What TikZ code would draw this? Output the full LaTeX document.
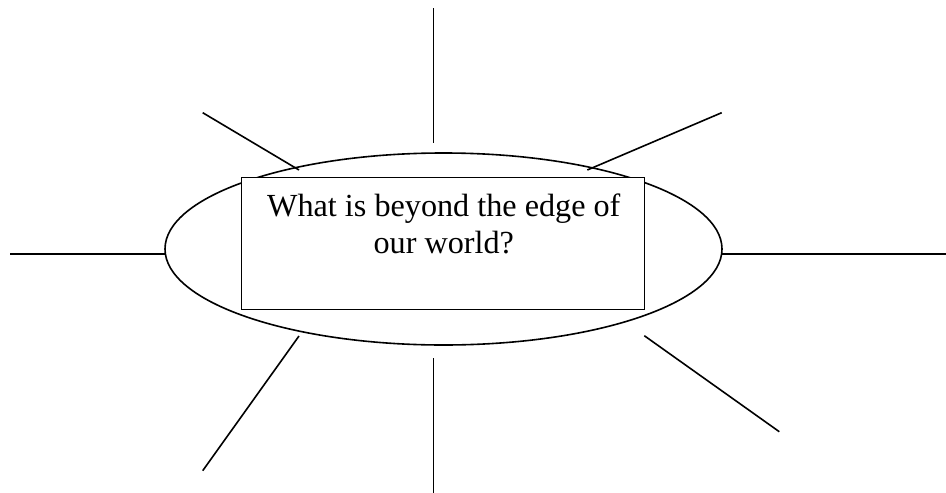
\documentclass[tikz,border=0pt]{standalone}
\usepackage{fontspec}
\setmainfont{Liberation Serif}
\usetikzlibrary{shapes.geometric}
\begin{document}
\begin{tikzpicture}[x=1pt,y=-1pt,
  ray/.style={line width=1.6pt},
  hub/.style={ellipse, draw, line width=1.6pt, inner sep=0pt, minimum width=557pt, minimum height=192pt},
  qbox/.style={rectangle, draw, line width=1.8pt, inner sep=0pt, fill=white, minimum width=403pt, minimum height=132pt},
  qtext/.style={font=\fontsize{32.2}{37}\selectfont, align=center, inner sep=0pt}]
\useasboundingbox (0,0) rectangle (946,493);
\node[hub] (ell) at (443.5,249) {};
\node[qbox] (box) at (443,243.5) {};
\node[qtext, anchor=base] (q) at (443.8,253) {What is beyond the edge of\\our world?};
% ray end points
\coordinate (t1) at (433.3,8);   \coordinate (t2) at (433.3,143.3);
\coordinate (b1) at (433.3,358.3); \coordinate (b2) at (433.3,493);
\coordinate (l1) at (10,254);    \coordinate (l2) at (165,254);
\coordinate (r1) at (722,254);   \coordinate (r2) at (946,254);
\coordinate (ul1) at (202.7,112.7); \coordinate (ul2) at (299,170);
\coordinate (ur1) at (721.7,112.7); \coordinate (ur2) at (587.3,170);
\coordinate (ll1) at (299,336);  \coordinate (ll2) at (202.7,470.7);
\coordinate (lr1) at (644.3,335.7); \coordinate (lr2) at (779.3,431.7);
\draw[ray] (t1) -- (t2);
\draw[ray] (b1) -- (b2);
\draw[ray] (l1) -- (l2);
\draw[ray] (r1) -- (r2);
\draw[ray] (ul1) -- (ul2);
\draw[ray] (ur1) -- (ur2);
\draw[ray] (ll1) -- (ll2);
\draw[ray] (lr1) -- (lr2);
\end{tikzpicture}
\end{document}
